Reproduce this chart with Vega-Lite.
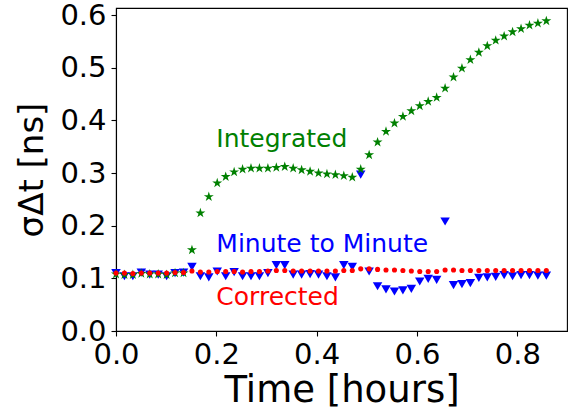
{
  "$schema": "https://vega.github.io/schema/vega-lite/v6.json",
  "autosize": "none",
  "padding": {"left": 116, "top": 8, "right": 3, "bottom": 79},
  "width": 451,
  "height": 323,
  "background": "white",
  "config": {
    "font": "DejaVu Sans",
    "view": {"stroke": "black", "strokeWidth": 1.1},
    "axis": {
      "grid": false,
      "domainColor": "black",
      "domainWidth": 1.1,
      "tickColor": "black",
      "tickWidth": 1.1,
      "tickSize": 5,
      "labelColor": "black",
      "titleColor": "black",
      "labelFont": "DejaVu Sans",
      "titleFont": "DejaVu Sans",
      "labelFontSize": 29,
      "titleFontWeight": "normal",
      "labelOverlap": false,
      "labelFlush": false,
      "labelBound": false
    }
  },
  "datasets": {
    "series": [
      {"t": 0.0, "integrated": 0.108, "minute": 0.110, "corrected": 0.110},
      {"t": 0.0168, "integrated": 0.107, "minute": 0.104, "corrected": 0.110},
      {"t": 0.0336, "integrated": 0.107, "minute": 0.104, "corrected": 0.109},
      {"t": 0.0505, "integrated": 0.109, "minute": 0.111, "corrected": 0.110},
      {"t": 0.0673, "integrated": 0.108, "minute": 0.107, "corrected": 0.110},
      {"t": 0.0841, "integrated": 0.108, "minute": 0.107, "corrected": 0.110},
      {"t": 0.1009, "integrated": 0.107, "minute": 0.104, "corrected": 0.110},
      {"t": 0.1177, "integrated": 0.110, "minute": 0.110, "corrected": 0.111},
      {"t": 0.1346, "integrated": 0.110, "minute": 0.111, "corrected": 0.111},
      {"t": 0.1514, "integrated": 0.154, "minute": 0.122, "corrected": 0.114},
      {"t": 0.1682, "integrated": 0.224, "minute": 0.104, "corrected": 0.112},
      {"t": 0.1850, "integrated": 0.255, "minute": 0.102, "corrected": 0.112},
      {"t": 0.2018, "integrated": 0.281, "minute": 0.113, "corrected": 0.113},
      {"t": 0.2187, "integrated": 0.293, "minute": 0.104, "corrected": 0.113},
      {"t": 0.2355, "integrated": 0.302, "minute": 0.112, "corrected": 0.113},
      {"t": 0.2523, "integrated": 0.307, "minute": 0.104, "corrected": 0.112},
      {"t": 0.2691, "integrated": 0.309, "minute": 0.104, "corrected": 0.113},
      {"t": 0.2859, "integrated": 0.309, "minute": 0.104, "corrected": 0.113},
      {"t": 0.3028, "integrated": 0.309, "minute": 0.110, "corrected": 0.114},
      {"t": 0.3196, "integrated": 0.3105, "minute": 0.125, "corrected": 0.115},
      {"t": 0.3364, "integrated": 0.312, "minute": 0.125, "corrected": 0.115},
      {"t": 0.3532, "integrated": 0.309, "minute": 0.107, "corrected": 0.114},
      {"t": 0.3700, "integrated": 0.306, "minute": 0.107, "corrected": 0.114},
      {"t": 0.3869, "integrated": 0.303, "minute": 0.108, "corrected": 0.114},
      {"t": 0.4037, "integrated": 0.300, "minute": 0.107, "corrected": 0.114},
      {"t": 0.4205, "integrated": 0.298, "minute": 0.104, "corrected": 0.114},
      {"t": 0.4373, "integrated": 0.2966, "minute": 0.102, "corrected": 0.114},
      {"t": 0.4541, "integrated": 0.2947, "minute": 0.125, "corrected": 0.115},
      {"t": 0.4710, "integrated": 0.292, "minute": 0.122, "corrected": 0.115},
      {"t": 0.4878, "integrated": 0.307, "minute": 0.297, "corrected": 0.118},
      {"t": 0.5046, "integrated": 0.3345, "minute": 0.113, "corrected": 0.118},
      {"t": 0.5214, "integrated": 0.3586, "minute": 0.085, "corrected": 0.117},
      {"t": 0.5382, "integrated": 0.3788, "minute": 0.079, "corrected": 0.116},
      {"t": 0.5551, "integrated": 0.3947, "minute": 0.075, "corrected": 0.116},
      {"t": 0.5719, "integrated": 0.4072, "minute": 0.077, "corrected": 0.115},
      {"t": 0.5887, "integrated": 0.418, "minute": 0.080, "corrected": 0.114},
      {"t": 0.6055, "integrated": 0.4275, "minute": 0.094, "corrected": 0.113},
      {"t": 0.6223, "integrated": 0.4357, "minute": 0.099, "corrected": 0.113},
      {"t": 0.6392, "integrated": 0.4433, "minute": 0.097, "corrected": 0.113},
      {"t": 0.6560, "integrated": 0.461, "minute": 0.208, "corrected": 0.116},
      {"t": 0.6728, "integrated": 0.482, "minute": 0.087, "corrected": 0.116},
      {"t": 0.6896, "integrated": 0.499, "minute": 0.089, "corrected": 0.115},
      {"t": 0.7064, "integrated": 0.515, "minute": 0.091, "corrected": 0.115},
      {"t": 0.7233, "integrated": 0.529, "minute": 0.101, "corrected": 0.115},
      {"t": 0.7401, "integrated": 0.5414, "minute": 0.102, "corrected": 0.115},
      {"t": 0.7569, "integrated": 0.552, "minute": 0.103, "corrected": 0.115},
      {"t": 0.7737, "integrated": 0.560, "minute": 0.106, "corrected": 0.115},
      {"t": 0.7905, "integrated": 0.568, "minute": 0.104, "corrected": 0.115},
      {"t": 0.8074, "integrated": 0.574, "minute": 0.106, "corrected": 0.115},
      {"t": 0.8242, "integrated": 0.5806, "minute": 0.106, "corrected": 0.115},
      {"t": 0.8410, "integrated": 0.5844, "minute": 0.105, "corrected": 0.115},
      {"t": 0.8578, "integrated": 0.589, "minute": 0.105, "corrected": 0.115}
    ],
    "labels": [
      {"t": 0.2, "v": 0.35, "label": "Integrated"},
      {"t": 0.2, "v": 0.15, "label": "Minute to Minute"},
      {"t": 0.2, "v": 0.05, "label": "Corrected"}
    ]
  },
  "layer": [
    {
      "data": {"name": "series"},
      "mark": {"type": "point", "shape": "triangle-down", "filled": true, "size": 90, "color": "#0000ff", "opacity": 1},
      "encoding": {
        "x": {
          "field": "t", "type": "quantitative",
          "scale": {"domain": [0, 0.899], "nice": false, "zero": false},
          "axis": {"values": [0, 0.2, 0.4, 0.6, 0.8], "format": ".1f", "title": "Time [hours]", "titleFontSize": 37, "labelPadding": 4, "titlePadding": 3}
        },
        "y": {
          "field": "minute", "type": "quantitative",
          "scale": {"domain": [0, 0.6135], "nice": false, "zero": false},
          "axis": {"values": [0, 0.1, 0.2, 0.3, 0.4, 0.5, 0.6], "format": ".1f", "title": "σΔt [ns]", "titleFontSize": 34, "labelPadding": 5, "titlePadding": 10}
        }
      }
    },
    {
      "data": {"name": "series"},
      "mark": {"type": "point", "shape": "M0,-1L0.2245,-0.309L0.951,-0.309L0.363,0.118L0.588,0.809L0,0.382L-0.588,0.809L-0.363,0.118L-0.951,-0.309L-0.2245,-0.309Z", "filled": true, "size": 110, "color": "#008000", "opacity": 1},
      "encoding": {
        "x": {"field": "t", "type": "quantitative"},
        "y": {"field": "integrated", "type": "quantitative"}
      }
    },
    {
      "data": {"name": "series"},
      "mark": {"type": "point", "shape": "circle", "filled": true, "size": 26, "color": "#ff0000", "opacity": 1},
      "encoding": {
        "x": {"field": "t", "type": "quantitative"},
        "y": {"field": "corrected", "type": "quantitative"}
      }
    },
    {
      "data": {"name": "labels"},
      "mark": {"type": "text", "align": "left", "baseline": "alphabetic", "fontSize": 25, "font": "DejaVu Sans"},
      "encoding": {
        "x": {"field": "t", "type": "quantitative"},
        "y": {"field": "v", "type": "quantitative"},
        "text": {"field": "label"},
        "color": {
          "field": "label", "type": "nominal",
          "scale": {"domain": ["Integrated", "Minute to Minute", "Corrected"], "range": ["#008000", "#0000ff", "#ff0000"]},
          "legend": null
        }
      }
    }
  ]
}
